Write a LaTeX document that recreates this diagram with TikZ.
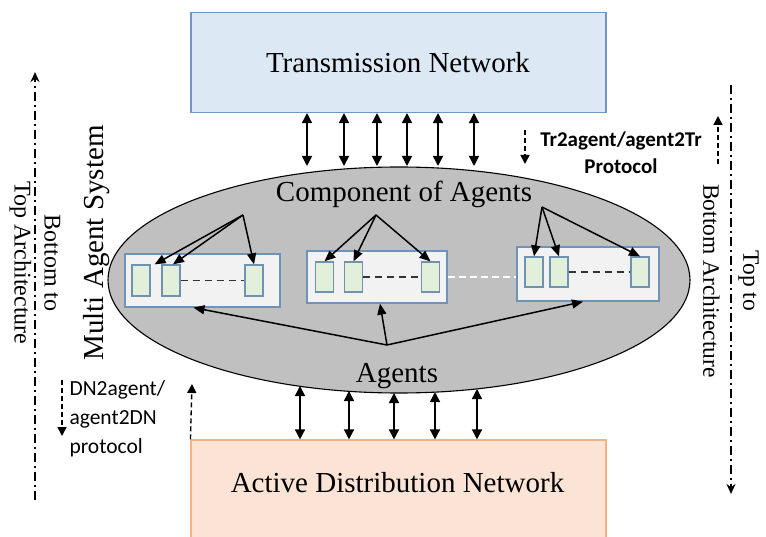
\documentclass[tikz,border=0pt]{standalone}
\usepackage{fontspec}
\setmainfont{Liberation Serif}
\newfontfamily\calfont{Carlito}
\usetikzlibrary{arrows.meta,shapes.geometric}
\definecolor{tnfill}{HTML}{DCE8F4}
\definecolor{tnline}{HTML}{7396BE}
\definecolor{adnfill}{HTML}{FBE4D6}
\definecolor{adnline}{HTML}{F4B183}
\definecolor{ellfill}{HTML}{C0C0C0}
\definecolor{grpfill}{HTML}{F2F2F2}
\definecolor{grpline}{HTML}{6F92B8}
\definecolor{agfill}{HTML}{E2EFDA}
\definecolor{agline}{HTML}{6F93AE}
\definecolor{dashgray}{HTML}{333333}
\tikzset{
  bigbox/.style={draw, line width=1.1pt, rectangle, inner sep=0pt},
  grpbox/.style={draw=grpline, fill=grpfill, line width=1.3pt, rectangle, inner sep=0pt},
  agbox/.style={draw=agline, fill=agfill, line width=1.3pt, rectangle, inner sep=0pt, minimum width=18pt},
  serif28/.style={font=\fontsize{29}{32}\selectfont},
  dbl/.style={line width=1.5pt, {Triangle[length=10pt,width=10pt]}-{Triangle[length=10pt,width=10pt]}},
  sarr/.style={line width=1.5pt, -{Triangle[length=11pt,width=9pt]}},
  proto/.style={line width=1.4pt, dash pattern=on 5pt off 3pt, -{Triangle[length=9pt,width=9pt]}},
  archline/.style={line width=2.4pt, dash pattern=on 9pt off 4pt on 2pt off 4pt, -{Stealth[length=10pt,width=9pt]}},
  innerdash/.style={line width=1.6pt, dashgray, dash pattern=on 7pt off 5pt},
}
\begin{document}
\begin{tikzpicture}[x=1pt,y=-1pt]
\useasboundingbox (0,0) rectangle (766,537);

% main boxes
\node[bigbox, draw=tnline, fill=tnfill, minimum width=415pt, minimum height=100pt] (tn) at (398.5,62.5) {};
\node[serif28, anchor=base] (tntext) at (398,73) {Transmission Network};
\node[bigbox, draw=adnline, fill=adnfill, minimum width=415pt, minimum height=120pt] (adn) at (398.5,500) {};
\node[serif28, anchor=base] (adntext) at (397.5,492) {Active Distribution Network};

% ellipse
\node[ellipse, draw, fill=ellfill, line width=1.1pt, minimum width=582pt, minimum height=226pt, inner sep=0pt] (ell) at (399,280) {};
\node[serif28, anchor=base] (comp) at (404,202) {Component of Agents};
\node[serif28, anchor=base] (agents) at (397,382) {Agents};

% top double arrows
\foreach \i/\x in {1/307,2/344,3/377,4/407,5/438,6/474}{
  \coordinate (t\i) at (\x,166);
  \draw[dbl] (t\i |- tn.south) -- (t\i);
}
% bottom double arrows
\foreach \i/\x/\y in {1/300/386,2/349/391,3/394/393,4/435/392,5/477/389}{
  \coordinate (b\i) at (\x,\y);
  \draw[dbl] (b\i) -- (b\i |- adn.north);
}

% agent groups
\node[grpbox, minimum width=155pt, minimum height=53pt] (g1) at (202.5,280.5) {};
\node[grpbox, minimum width=140pt, minimum height=52pt] (g2) at (377,277) {};
\node[grpbox, minimum width=142pt, minimum height=54pt] (g3) at (588,274) {};

\node[agbox, minimum height=31pt] (s11) at (141,280.5) {};
\node[agbox, minimum height=31pt] (s12) at (171,280.5) {};
\node[agbox, minimum height=31pt] (s13) at (254,280.5) {};
\node[agbox, minimum height=30pt] (s21) at (324.5,277) {};
\node[agbox, minimum height=30pt] (s22) at (353.5,277) {};
\node[agbox, minimum height=30pt] (s23) at (430.5,277) {};
\node[agbox, minimum height=30pt] (s31) at (534,272) {};
\node[agbox, minimum height=30pt] (s32) at (559,272) {};
\node[agbox, minimum height=30pt] (s33) at (640,272) {};

\draw[innerdash] (s12.east) -- (s13.west);
\draw[innerdash] (s22.east) -- (s23.west);
\draw[innerdash] (s32.east) -- (s33.west);
\draw[line width=1.6pt, white, dash pattern=on 7pt off 4pt] (g2.east) -- (g2.east -| g3.west);

% component arrows
\coordinate (c1) at (243,215);
\coordinate (c2) at (376,215);
\coordinate (c3) at (542,207);
\draw[sarr] (c1) -- ([xshift=4pt]s11.north east);
\draw[sarr] (c1) -- ([xshift=2pt]s12.north);
\draw[sarr] (c1) -- (s13.north);
\draw[sarr] (c2) -- (s21.north);
\draw[sarr] (c2) -- (s22.north);
\draw[sarr] (c2) -- (s23.north);
\draw[sarr] (c3) -- (s31.north);
\draw[sarr] (c3) -- (s32.north);
\draw[sarr] (c3) -- (s33.north);

% agents arrows
\coordinate (a0) at (387,345);
\draw[sarr] (a0) -- ([xshift=-9pt]g1.south);
\draw[sarr] (a0) -- ([xshift=3pt]g2.south);
\draw[sarr] (a0) -- ([xshift=-5pt]g3.south);

% side texts
\node[serif28, rotate=90] (mas) at (97,243) {Multi Agent System};
\node[font=\fontsize{24}{30}\selectfont, rotate=-90, align=center] (b2t) at (35,263) {Bottom to\\Top Architecture};
\node[font=\fontsize{23.5}{40}\selectfont, rotate=-90, align=center] (t2b) at (731,281) {Top to\\Bottom Architecture};

% architecture arrows
\coordinate (la) at (35,500);
\coordinate (lb) at (35,72);
\draw[archline] (la) -- (lb);
\coordinate (ra) at (731,85);
\coordinate (rb) at (731,494);
\draw[archline] (ra) -- (rb);

% protocol texts
\node[font=\calfont\bfseries\fontsize{21}{27}\selectfont, align=center] (trp) at (621,153) {Tr2agent/agent2Tr\\Protocol};
\node[font=\calfont\fontsize{21.5}{29}\selectfont, align=left, anchor=west] (dnp) at (66,419) {DN2agent/\\agent2DN\\protocol};

% protocol arrows
\coordinate (p1a) at (525,130);
\coordinate (p1b) at (525,164);
\draw[proto] (p1a) -- (p1b);
\coordinate (p2a) at (718,164);
\coordinate (p2b) at (718,116);
\draw[proto] (p2a) -- (p2b);
\coordinate (p3a) at (62,380);
\coordinate (p3b) at (62,436);
\draw[proto] (p3a) -- (p3b);
\coordinate (p4b) at (192,384);
\draw[proto] (adn.north west) -- (p4b);
\end{tikzpicture}
\end{document}
